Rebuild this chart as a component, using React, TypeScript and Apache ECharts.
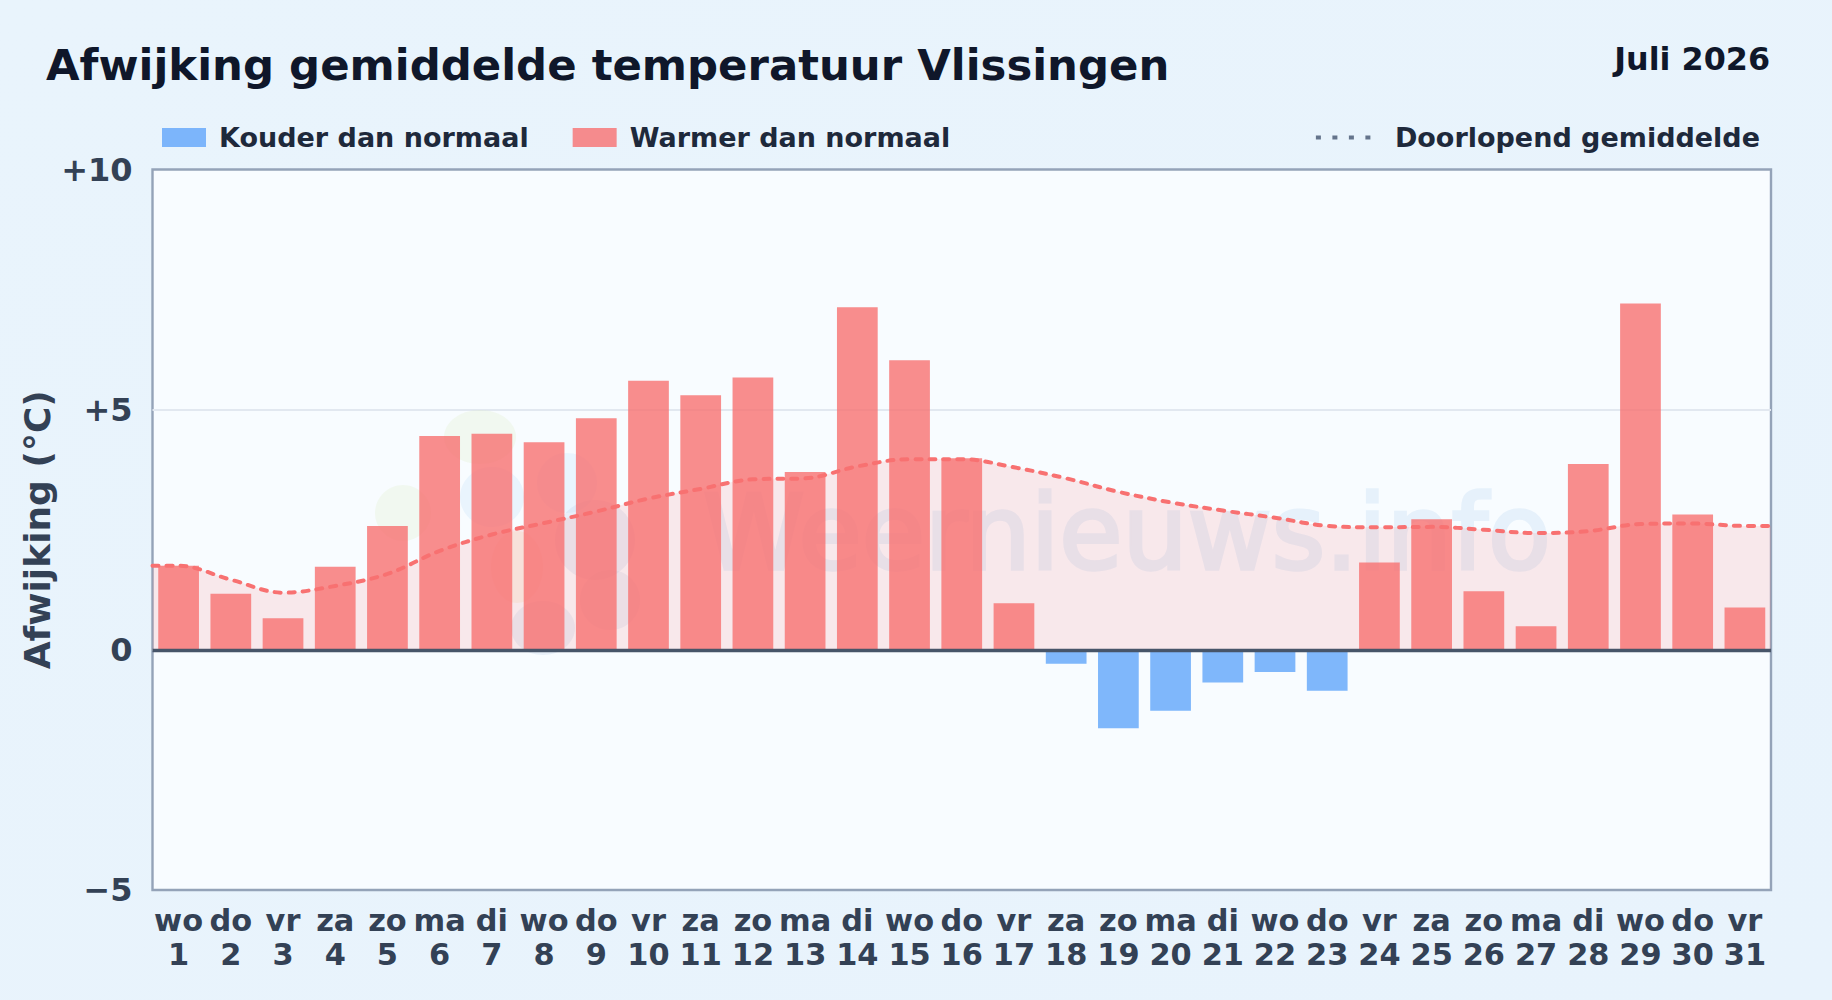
import React, { useEffect, useRef } from "react";
import * as echarts from "echarts";

const FONT = "'DejaVu Sans', sans-serif";
const weekdays = ["wo","do","vr","za","zo","ma","di","wo","do","vr","za","zo","ma","di","wo","do","vr","za","zo","ma","di","wo","do","vr","za","zo","ma","di","wo","do","vr"];
const days = Array.from({ length: 31 }, (_, i) => String(i + 1));
const deviations = [1.75,1.17,0.66,1.73,2.58,4.45,4.5,4.32,4.82,5.6,5.3,5.67,3.7,7.13,6.03,3.99,0.97,-0.29,-1.63,-1.27,-0.68,-0.46,-0.85,1.82,2.72,1.22,0.49,3.87,7.21,2.82,0.88];
const runningX = [0.5,1,2,3,4,5,6,7,8,9,10,11,12,13,14,15,16,17,18,19,20,21,22,23,24,25,26,27,28,29,30,31,31.5];
const runningMean = [1.75,1.75,1.46,1.19,1.33,1.58,2.06,2.4,2.64,2.88,3.15,3.35,3.55,3.57,3.82,3.97,3.97,3.8,3.57,3.29,3.07,2.9,2.75,2.58,2.55,2.56,2.5,2.43,2.47,2.62,2.63,2.58,2.58];
const yTicks: Record<string, string> = { "10": "+10", "5": "+5", "0": "0", "-5": "\u22125" };
const COLD = "Kouder dan normaal";
const WARM = "Warmer dan normaal";
const MEAN = "Doorlopend gemiddelde";
const logoBlobs = [
  { x: 480, y: 437, rx: 36, ry: 27, c: "#dcefc0" },
  { x: 403, y: 513, rx: 28, ry: 28, c: "#dcefc0" },
  { x: 492, y: 497, rx: 32, ry: 30, c: "#bcdcf7" },
  { x: 567, y: 483, rx: 30, ry: 30, c: "#bce0fa" },
  { x: 517, y: 567, rx: 26, ry: 36, c: "#f5dcb0" },
  { x: 595, y: 540, rx: 40, ry: 40, c: "#b8c8e8" },
  { x: 543, y: 628, rx: 32, ry: 27, c: "#b8cce8" },
  { x: 610, y: 600, rx: 30, ry: 30, c: "#c0cce8" },
];

export default function App() {
  const ref = useRef<HTMLDivElement>(null);
  useEffect(() => {
    document.body.style.margin = "0";
    const chart = echarts.init(ref.current!, undefined, { renderer: "svg" });
    const smooth = 0.35;
    const meanData = runningX.map((x, i) => [x, runningMean[i]]);
    chart.setOption({
      animation: false,
      backgroundColor: new echarts.graphic.LinearGradient(0, 0, 1, 1, [
        { offset: 0, color: "#e9f4fc" },
        { offset: 1, color: "#e8f3fc" },
      ]),
      title: [
        { text: "Afwijking gemiddelde temperatuur Vlissingen", left: 46, top: 43, padding: 0,
          textStyle: { fontFamily: FONT, fontWeight: "bold", fontSize: 43.4, color: "#0f172a" } },
        { text: "Juli 2026", right: 62, top: 42, padding: 0,
          textStyle: { fontFamily: FONT, fontWeight: "bold", fontSize: 31.8, color: "#0f172a" } },
      ],
      legend: [
        { data: [COLD, WARM], left: 162, top: 124, padding: 0, itemWidth: 44, itemHeight: 19, itemGap: 44, icon: "rect",
          textStyle: { fontFamily: FONT, fontWeight: "bold", fontSize: 27, color: "#1e293b", padding: [0, 0, 0, 8] } },
        { data: [MEAN], right: 72, top: 124, padding: 0, itemWidth: 56, itemHeight: 19,
          itemStyle: { opacity: 0 },
          lineStyle: { color: "#64748b", width: 4, type: [5, 11.5], cap: "butt" },
          textStyle: { fontFamily: FONT, fontWeight: "bold", fontSize: 27, color: "#1e293b", padding: [0, 0, 0, 18] } },
      ],
      grid: { left: 152.5, right: 61, top: 169.5, height: 720.5, show: true, backgroundColor: "#f8fcff", borderColor: "#94a3b8", borderWidth: 2.4, containLabel: false, outerBoundsMode: "none" },
      xAxis: [
        { type: "category", data: weekdays.map((w, i) => `${w}\n${days[i]}`), axisLine: { show: false }, axisTick: { show: false }, splitLine: { show: false },
          axisLabel: { interval: 0, margin: 13, lineHeight: 34, fontFamily: FONT, fontWeight: "bold", fontSize: 30.4, color: "#334155" } },
        { type: "value", min: 0.5, max: 31.5, show: false, splitLine: { show: false } },
      ],
      yAxis: {
        type: "value", min: -5, max: 10, interval: 5,
        name: "Afwijking (\u00b0C)", nameLocation: "middle", nameGap: 97, nameMoveOverlap: false,
        nameTextStyle: { fontFamily: FONT, fontWeight: "bold", fontSize: 36, color: "#334155" },
        axisLine: { show: false }, axisTick: { show: false },
        splitLine: { show: true, showMinLine: false, showMaxLine: false, lineStyle: { color: "#e2e8f0", width: 2 } },
        axisLabel: { margin: 20, fontFamily: FONT, fontWeight: "bold", fontSize: 32, color: "#334155",
          formatter: (v: number) => yTicks[String(v)] },
      },
      graphic: [
        { type: "group", silent: true, z: 1, children: logoBlobs.map((b) => ({
            type: "ellipse", z: 1, shape: { cx: b.x, cy: b.y, rx: b.rx, ry: b.ry }, style: { fill: b.c, opacity: 0.24 } })) },
        { type: "text", silent: true, z: 1, x: 703, y: 482, style: { text: "Weernieuws.info", font: "normal 102.8px 'DejaVu Sans', sans-serif", fill: "#e6f1fb", stroke: "#e6f1fb", lineWidth: 3.5, lineJoin: "round" } },
      ],
      series: [
        { name: "gebied", type: "line", xAxisIndex: 1, data: meanData, smooth, symbol: "none", lineStyle: { width: 0, opacity: 0 }, areaStyle: { color: "#f87171", opacity: 0.14, origin: 0 }, silent: true, z: 2 },
        { name: COLD, type: "bar", barWidth: "78%", barGap: "-100%", itemStyle: { color: "#60a5fa", opacity: 0.8 }, data: deviations.map((v) => (v < 0 ? v : null)), z: 3 },
        { name: WARM, type: "bar", barWidth: "78%", barGap: "-100%", itemStyle: { color: "#f87171", opacity: 0.8 }, data: deviations.map((v) => (v >= 0 ? v : null)), z: 3 },
        { name: MEAN, type: "line", xAxisIndex: 1, data: meanData, smooth, symbol: "none", itemStyle: { color: "#f87171" },
          lineStyle: { color: "#f87171", width: 4, type: [6, 8], cap: "round" }, z: 4,
          markLine: { silent: true, symbol: "none", label: { show: false }, data: [{ yAxis: 0 }], lineStyle: { color: "#475569", width: 3.4, type: "solid" } } },
      ],
    });
    return () => chart.dispose();
  }, []);
  return <div ref={ref} style={{ width: 1832, height: 1000 }} />;
}
